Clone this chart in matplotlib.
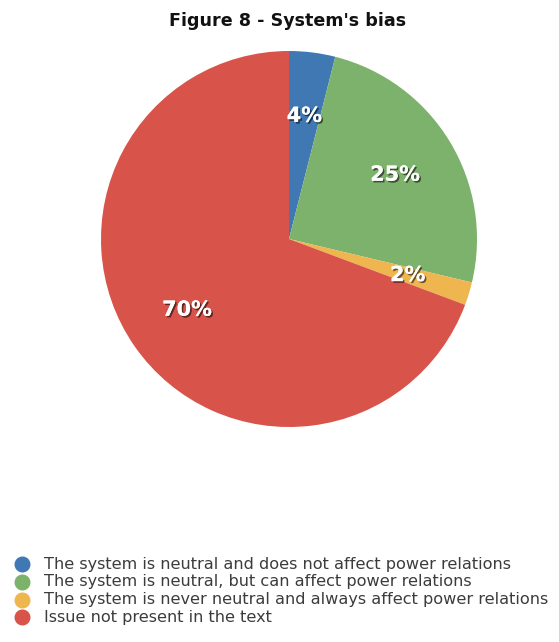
import matplotlib
matplotlib.use("Agg")
import matplotlib.pyplot as plt
import matplotlib.patheffects as pe
from matplotlib.lines import Line2D
import numpy as np

plt.rcParams["font.family"] = ["DejaVu Sans"]

categories = [
    "The system is neutral and does not affect power relations",
    "The system is neutral, but can affect power relations",
    "The system is never neutral and always affect power relations",
    "Issue not present in the text",
]
shares = [4, 25, 2, 70]
colors = ["#3f78b3", "#7cb26b", "#efb54f", "#d8534a"]

W, H = 559, 642
fig = plt.figure(figsize=(W / 100, H / 100), dpi=100)

# pie centred at (289, 239) px with radius 188 px
cx, cy, r = 289, 239, 188
ax = fig.add_axes([(cx - r) / W, (H - cy - r) / H, 2 * r / W, 2 * r / H])
wedges, _ = ax.pie(shares, colors=colors, startangle=90, counterclock=False,
                   radius=1.0, wedgeprops=dict(linewidth=0))
ax.set_xlim(-1, 1)
ax.set_ylim(-1, 1)

# white percentage labels with a dark drop shadow
shadow = [pe.withSimplePatchShadow(offset=(1.2, -1.2), shadow_rgbFace="black", alpha=0.55),
          pe.Normal()]
for w, val in zip(wedges, shares):
    mid = np.deg2rad((w.theta1 + w.theta2) / 2)
    ax.text(0.66 * np.cos(mid), 0.66 * np.sin(mid), f"{val}%", ha="center", va="center",
            color="white", fontsize=15, fontweight="bold", path_effects=shadow)

fig.text(288 / W, 1 - 26 / H, "Figure 8 - System's bias", ha="center", va="baseline",
         fontsize=12.6, fontweight="bold", color="#111111")

# legend rows at the bottom left
row0, step = 564, 17.8
for i, (lab, c) in enumerate(zip(categories, colors)):
    y = 1 - (row0 + i * step) / H
    fig.add_artist(Line2D([22 / W], [y], transform=fig.transFigure, linestyle="none",
                          marker="o", markersize=10.5, markerfacecolor=c, markeredgecolor=c))
    fig.text(44 / W, y, lab, ha="left", va="center", fontsize=11.6, color="#3c3c3c")

fig.savefig("out.png", dpi=100)
